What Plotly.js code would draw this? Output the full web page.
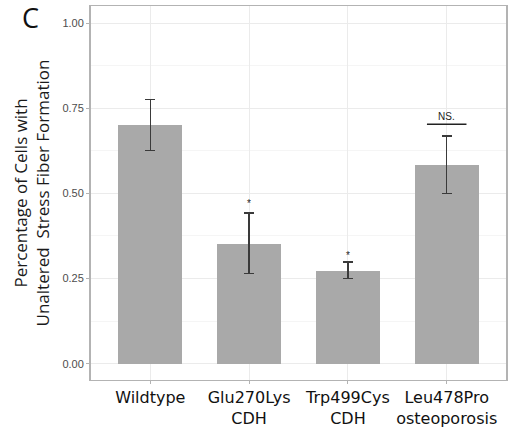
<!DOCTYPE html>
<html>
<head>
<meta charset="utf-8">
<script src="https://cdn.plot.ly/plotly-3.0.1.min.js"></script>
<style>html,body{margin:0;padding:0;background:#fff;}#chart{width:514px;height:431px;}</style>
</head>
<body>
<div id="chart"></div>
<script>
// Data
const categories = ["Wildtype", "Glu270Lys<br>CDH", "Trp499Cys<br>CDH", "Leu478Pro<br>osteoporosis"];
const means = [0.70, 0.352, 0.273, 0.583];
const errUpper = [0.776, 0.442, 0.298, 0.668];
const errLower = [0.626, 0.265, 0.250, 0.500];
const sigLabels = ["", "*", "*", "NS."];
const sigY = [null, 0.47, 0.318, 0.725];
const nsLineY = 0.703;
const yTicks = [0, 0.25, 0.5, 0.75, 1.0];
const yTickText = ["0.00", "0.25", "0.50", "0.75", "1.00"];

const idx = categories.map((c, i) => i);
const trace = {
  type: "bar",
  x: idx,
  y: means,
  width: 0.65,
  marker: {color: "#A9A9A9", line: {width: 0}},
  error_y: {
    type: "data", symmetric: false,
    array: means.map((m, i) => errUpper[i] - m),
    arrayminus: means.map((m, i) => m - errLower[i]),
    color: "#3a3a3a", thickness: 1.5, width: 5
  },
  hoverinfo: "skip"
};

const annotations = [];
sigLabels.forEach((s, i) => {
  if (!s) return;
  annotations.push({
    x: i, y: sigY[i], xref: "x", yref: "y", text: s, showarrow: false,
    font: {family: "Liberation Sans, Arial, sans-serif", size: s === "*" ? 10 : 10, color: "#222"},
    yanchor: "middle"
  });
});
annotations.push({
  x: 0.06, y: 0.995, xref: "paper", yref: "paper", xanchor: "center", yanchor: "middle",
  text: "C", showarrow: false,
  font: {family: "Open Sans, sans-serif", size: 27, color: "#111"}
});
// put C relative to page instead
annotations[annotations.length - 1].x = -0.145;
annotations[annotations.length - 1].y = 0.97;

const shapes = [{
  type: "line", xref: "x", yref: "y", x0: 3 - 0.2, x1: 3 + 0.2, y0: nsLineY, y1: nsLineY,
  line: {color: "#222", width: 1.5}
}];

const layout = {
  width: 514, height: 431,
  margin: {l: 91, r: 8, t: 6, b: 51, pad: 0},
  paper_bgcolor: "#fff", plot_bgcolor: "#fff",
  showlegend: false,
  bargap: 0,
  xaxis: {
    range: [-0.6, 3.6],
    tickvals: idx, ticktext: categories,
    showgrid: true, gridcolor: "#EBEBEB", gridwidth: 1,
    zeroline: false,
    showline: true, linecolor: "#B3B3B3", linewidth: 1.2, mirror: true,
    ticks: "outside", ticklen: 3, tickcolor: "#B3B3B3", tickwidth: 1,
    tickfont: {family: "DejaVu Sans, sans-serif", size: 16, color: "#111"}
  },
  yaxis: {
    range: [-0.048, 1.05],
    tickvals: yTicks, ticktext: yTickText,
    showgrid: true, gridcolor: "#EBEBEB", gridwidth: 1,
    minor: {showgrid: true, gridcolor: "#F5F5F5", gridwidth: 1, dtick: 0.125, tick0: 0.125},
    zeroline: false,
    showline: true, linecolor: "#B3B3B3", linewidth: 2, mirror: true,
    ticks: "outside", ticklen: 3, tickcolor: "#B3B3B3", tickwidth: 1,
    tickfont: {family: "Liberation Sans, Arial, sans-serif", size: 11, color: "#4D4D4D"},
    title: {
      text: "Percentage of Cells with<br>Unaltered\u00a0 Stress Fiber Formation",
      font: {family: "Open Sans, sans-serif", size: 17, color: "#1a1a1a"},
      standoff: 8
    },
    automargin: false
  },
  annotations: annotations,
  shapes: shapes
};

Plotly.newPlot("chart", [trace], layout, {displayModeBar: false, staticPlot: true});
</script>
</body>
</html>
